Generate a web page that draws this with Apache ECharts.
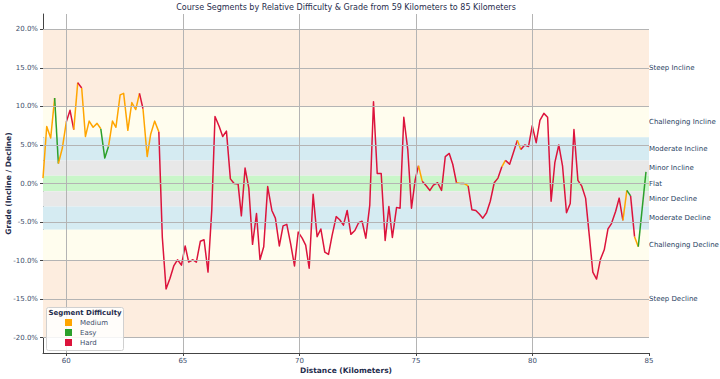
<!DOCTYPE html>
<html><head><meta charset="utf-8">
<script src="https://cdn.jsdelivr.net/npm/echarts@6/dist/echarts.min.js"></script>
<style>html,body{margin:0;padding:0;background:#fff}#c{width:720px;height:379px}</style>
</head><body><div id="c"></div>
<script>
// ---- data ----
const distanceKm = [
59.00,59.16,59.33,59.50,59.66,59.83,60.00,60.16,60.32,60.49,
60.66,60.82,60.98,61.15,61.32,61.48,61.65,61.81,61.98,62.13,
62.31,62.46,62.64,62.81,62.98,63.14,63.29,63.47,63.62,63.79,
63.97,64.12,64.28,64.45,64.61,64.77,64.94,65.10,65.25,65.43,
65.58,65.75,65.91,66.08,66.24,66.38,66.56,66.71,66.87,67.04,
67.20,67.37,67.51,67.67,67.83,67.99,68.16,68.31,68.47,68.64,
68.82,68.97,69.14,69.30,69.46,69.63,69.79,69.95,70.12,70.27,
70.42,70.59,70.76,70.92,71.09,71.25,71.40,71.58,71.73,71.89,
72.05,72.21,72.38,72.54,72.69,72.85,73.02,73.18,73.34,73.51,
73.68,73.84,73.99,74.17,74.32,74.48,74.65,74.81,74.97,75.11,
75.27,75.44,75.60,75.75,75.93,76.10,76.26,76.43,76.58,76.74,
76.91,77.07,77.24,77.40,77.57,77.73,77.87,78.03,78.19,78.36,
78.52,78.69,78.84,79.02,79.17,79.35,79.50,79.67,79.83,79.99,
80.16,80.32,80.49,80.65,80.80,80.96,81.13,81.29,81.46,81.62,
81.78,81.95,82.11,82.28,82.44,82.59,82.75,82.91,83.08,83.24,
83.39,83.57,83.72,83.88,84.05,84.21,84.38,84.54,84.87
];
const gradePct = [
0.7,7.4,5.9,11.1,2.6,4.6,8.0,9.5,7.0,13.1,
12.4,6.1,8.1,7.3,7.8,7.1,3.3,4.8,8.1,7.3,
11.5,11.7,6.9,10.5,9.6,11.7,9.7,3.5,6.4,8.1,
6.7,-7.0,-13.7,-12.3,-10.7,-9.9,-10.6,-8.1,-10.2,-9.9,
-10.2,-7.5,-7.3,-11.5,-3.5,8.7,7.4,6.1,6.8,0.6,
0.0,-0.05,-4.2,2.0,-0.6,-7.9,-3.9,-9.9,-8.2,-0.4,
-3.5,-4.5,-8.1,-5.5,-5.3,-7.9,-10.7,-6.3,-7.1,-8.0,
-11.0,-1.4,-6.9,-5.9,-8.9,-9.2,-6.8,-4.3,-4.7,-5.4,
-3.5,-6.6,-6.1,-5.1,-4.9,-7.1,-2.8,10.6,1.3,1.3,
-7.4,-3.0,-7.0,-3.1,-3.2,8.6,4.4,-3.2,0.5,2.3,
0.3,-0.3,-0.9,-0.2,0.1,-0.9,3.5,3.9,2.5,0.1,
0.0,0.0,-0.3,-3.4,-3.5,-4.0,-4.5,-3.8,-2.3,0.1,
0.7,2.2,3.0,2.5,3.9,5.6,4.4,5.0,4.8,7.5,
5.3,8.2,9.1,8.6,-2.3,2.7,5.0,2.3,-3.8,-2.6,
7.0,0.4,-0.3,-1.9,-6.8,-11.5,-12.4,-9.9,-8.6,-5.9,
-5.2,-3.6,-1.9,-4.8,-0.9,-1.6,-6.9,-8.2,1.5
];
// difficulty of each segment (point i -> point i+1): M = Medium, E = Easy, H = Hard
const segmentDifficulty = (
"MMMEMMHHMH" + "MMMMMEEMMM" + "MMMMMHMMMM" +
"HHHHHHHHHH" + "HHHHHHHHHH" + "HHHHHHHHHH" + "HHHHHHHHHH" + "HHHHHHHHHH" + "HHHHHHHHHH" + "HHHHHHHHH" +
"M" + "HHHHHHHHH" + "M" + "H" + "M" + "HHHHHHHHH" + "M" + "HHH" + "M" +
"HHHHHHHHHH" + "HHHHHHHHHH" + "HHHHHHH" +
"MEHME").split('');
const difficultyCodes = { M: 'Medium', E: 'Easy', H: 'Hard' };
const legendNames = ['Medium', 'Easy', 'Hard'];
const bandNames = ['Steep Incline','Challenging Incline','Moderate Incline','Minor Incline','Flat','Minor Decline','Moderate Decline','Challenging Decline','Steep Decline'];
const bandLower = [10, 6, 3, 1, -1, -3, -6, -10, -20];
const bandUpper = [20, 10, 6, 3, 1, -1, -3, -6, -10];
const yTickValues = [-20, -15, -10, -5, 0, 5, 10, 15, 20];
const xTickValues = [60, 65, 70, 75, 80, 85];
const xGridValues = [60, 65, 70, 75, 80];

// ---- styles ----
const FONT = 'DejaVu Sans';
const TXT = '#2a3f5f';
const lineColors = { Medium: '#FFA500', Easy: '#2CA02C', Hard: '#DC143C' };
const bandColors = ['#fdeddf','#fffdee','#d5ebf2','#e8e8e8','#c9f6c9','#e8e8e8','#d5ebf2','#fffdee','#fdeddf'];

// ---- build segment runs ----
const series = [];
series.push({
  type: 'line', name: '_bands', data: [], silent: true, z: 1,
  markArea: {
    silent: true,
    data: bandNames.map((n, i) => [
      { yAxis: bandLower[i], itemStyle: { color: bandColors[i] },
        label: { show: true, position: 'right', distance: 0, formatter: n, fontSize: 7, color: TXT, fontFamily: FONT } },
      { yAxis: bandUpper[i] }
    ])
  },
  markLine: {
    silent: true, symbol: 'none', animation: false,
    label: { show: false },
    lineStyle: { color: '#b4b4b4', width: 1, type: 'solid' },
    emphasis: { disabled: true },
    data: yTickValues.map(v => ({ yAxis: v })).concat(xGridValues.map(v => ({ xAxis: v })))
  }
});
let runStart = 0;
for (let i = 1; i <= segmentDifficulty.length; i++) {
  if (i === segmentDifficulty.length || segmentDifficulty[i] !== segmentDifficulty[runStart]) {
    const name = difficultyCodes[segmentDifficulty[runStart]];
    const pts = [];
    for (let k = runStart; k <= i; k++) pts.push([distanceKm[k], gradePct[k]]);
    series.push({
      type: 'line', name: name, data: pts, symbol: 'none', showSymbol: false, z: 3,
      silent: true, animation: false,
      itemStyle: { color: lineColors[name] },
      lineStyle: { color: lineColors[name], width: 1.5, join: 'round' }
    });
    runStart = i;
  }
}

const chart = echarts.init(document.getElementById('c'), null, { renderer: 'svg' });
chart.setOption({
  animation: false,
  backgroundColor: '#ffffff',
  textStyle: { fontFamily: FONT },
  grid: { left: 43, right: 71, top: 14, bottom: 26, containLabel: false, outerBoundsMode: 'none' },
  xAxis: {
    type: 'value', min: 59, max: 85,
    name: 'Distance (Kilometers)', nameLocation: 'middle', nameGap: 13, nameMoveOverlap: false,
    nameTextStyle: { fontWeight: 'bold', fontSize: 7.5, color: '#1f2d4d', fontFamily: FONT },
    axisLine: { show: true, onZero: false, lineStyle: { color: '#444', width: 1 } },
    axisTick: { show: true, customValues: xTickValues, length: 3, lineStyle: { color: '#444' } },
    axisLabel: { customValues: xTickValues, fontSize: 7, color: '#3d4e6b', margin: 4, fontFamily: FONT },
    splitLine: { show: false }
  },
  yAxis: {
    type: 'value', min: -22, max: 22,
    name: 'Grade (Incline / Decline)', nameLocation: 'middle', nameGap: 31, nameRotate: 90, nameMoveOverlap: false,
    nameTextStyle: { fontWeight: 'bold', fontSize: 7.5, color: '#1f2d4d', fontFamily: FONT },
    axisLine: { show: true, onZero: false, lineStyle: { color: '#444', width: 1 } },
    axisTick: { show: true, customValues: yTickValues, length: 3, lineStyle: { color: '#444' } },
    axisLabel: { customValues: yTickValues, fontSize: 7, color: '#3d4e6b', margin: 5, fontFamily: FONT,
      formatter: v => v.toFixed(1) + '%' },
    splitLine: { show: false }
  },
  legend: {
    z: 20, padding: 0,
    data: legendNames.map(n => ({ name: n, icon: 'rect' })),
    orient: 'vertical', left: 65, top: 319, itemWidth: 7, itemHeight: 7, itemGap: 3,
    selectedMode: false,
    textStyle: { fontSize: 7, color: '#3d4e6b', fontFamily: FONT, padding: [0, 0, 0, 3] }
  },
  graphic: [
    { type: 'text', x: 346, y: 3, z: 10,
      style: { text: 'Course Segments by Relative Difficulty & Grade from 59 Kilometers to 85 Kilometers',
        fill: '#1f2d4d', font: '8px "DejaVu Sans"', textAlign: 'center', textVerticalAlign: 'top' } },
    { type: 'rect', shape: { x: 46.5, y: 307.5, width: 77, height: 43, r: 2 }, z: 6,
      style: { fill: 'rgba(255,255,255,0.85)', stroke: '#d0d0d0', lineWidth: 1 } },
    { type: 'text', x: 85, y: 309, z: 10,
      style: { text: 'Segment Difficulty', fill: '#1f2d4d', font: 'bold 7px "DejaVu Sans"', textAlign: 'center', textVerticalAlign: 'top' } }
  ],
  series: series
});
</script>
</body></html>
